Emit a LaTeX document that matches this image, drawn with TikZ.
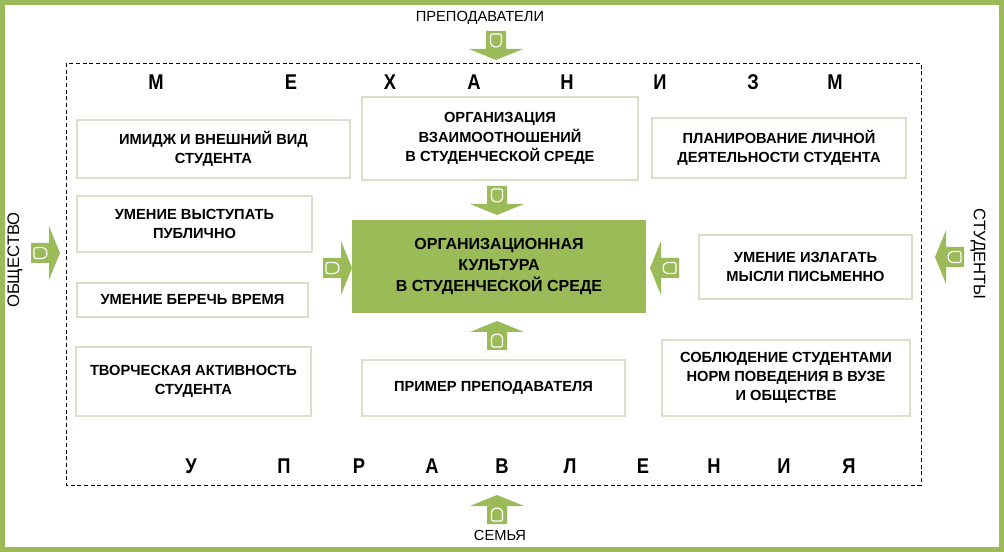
\documentclass[tikz,border=0pt]{standalone}
\usepackage{fontspec}
\setmainfont{Liberation Sans}
\newfontfamily\narrowfont[FakeStretch=0.86]{Liberation Sans Bold}
\usetikzlibrary{positioning}
\definecolor{olivegreen}{RGB}{155,187,89}
\definecolor{boxline}{RGB}{220,222,204}
\tikzset{
  mech box/.style={draw=boxline,line width=0.9pt,fill=white,align=center,inner sep=2pt,
    font=\bfseries\fontsize{11}{14.5}\selectfont},
  core box/.style={fill=olivegreen,align=center,inner sep=2pt,
    font=\bfseries\fontsize{12}{15.75}\selectfont},
  side label/.style={font=\fontsize{11}{13}\selectfont},
  big letter/.style={font=\narrowfont\fontsize{16}{16}\selectfont},
  frame line/.style={draw=black,line width=0.6pt,dash pattern=on 3pt off 2pt},
  block arrow/.pic={
    \fill[olivegreen] (-15,-10) -- (3,-10) -- (3,-27) -- (14,0) -- (3,27) -- (3,10) -- (-15,10) -- cycle;
    \draw[white,line width=0.9pt,rounded corners=1.5pt] (-12,-5.5) -- (-1,-5.5) -- (1.5,0) -- (-1,5.5) -- (-12,5.5) -- cycle;
  },
}

\begin{document}
\begin{tikzpicture}[x=0.75pt,y=-0.75pt]
  \useasboundingbox (0,0) rectangle (1004,552);
  \draw[olivegreen,line width=3.5pt] (2.5,2.5) rectangle (1001.5,549.5);
  \draw[frame line] (66,63) rectangle (921,485);

  % letters of the frame
  \foreach \l/\x in {М/156,Е/291,Х/390,А/474,Н/567,И/660,З/753,М/835}
    \node[big letter] (top\x) at (\x,82) {\l};
  \foreach \l/\x in {У/191,П/284,Р/359,А/432,В/502,Л/570,Е/643,Н/714,И/784,Я/849}
    \node[big letter] (bot\x) at (\x,466) {\l};

  % outer factors
  \node[side label] (teachers) at (480,18) {ПРЕПОДАВАТЕЛИ};
  \node[side label] (family) at (500,535) {СЕМЬЯ};
  \node[side label,font=\fontsize{12.5}{14}\selectfont,rotate=90] (society) at (15,260) {ОБЩЕСТВО};
  \node[side label,font=\fontsize{12.5}{14}\selectfont,rotate=-90] (students) at (978,254) {СТУДЕНТЫ};

  % boxes
  \node[core box,minimum width=220.5pt,minimum height=69.75pt] (core) at (499,266.5)
    {ОРГАНИЗАЦИОННАЯ\\КУЛЬТУРА\\В СТУДЕНЧЕСКОЙ СРЕДЕ};
  \node[mech box,minimum width=204.75pt,minimum height=43.5pt] (image) at (213.5,149)
    {ИМИДЖ И ВНЕШНИЙ ВИД\\СТУДЕНТА};
  \node[mech box,minimum width=207pt,minimum height=62.25pt] (relations) at (500,138.5)
    {ОРГАНИЗАЦИЯ\\ВЗАИМООТНОШЕНИЙ\\В СТУДЕНЧЕСКОЙ СРЕДЕ};
  \node[mech box,minimum width=190.5pt,minimum height=45pt] (planning) at (779,148)
    {ПЛАНИРОВАНИЕ ЛИЧНОЙ\\ДЕЯТЕЛЬНОСТИ СТУДЕНТА};
  \node[mech box,minimum width=176.25pt,minimum height=42pt] (speaking) at (194.5,224)
    {УМЕНИЕ ВЫСТУПАТЬ\\ПУБЛИЧНО};
  \node[mech box,minimum width=159.75pt,minimum height=48pt] (writing) at (805.5,267)
    {УМЕНИЕ ИЗЛАГАТЬ\\МЫСЛИ ПИСЬМЕННО};
  \node[mech box,minimum width=173.25pt,minimum height=25.5pt] (time) at (192.5,300)
    {УМЕНИЕ БЕРЕЧЬ ВРЕМЯ};
  \node[mech box,minimum width=176.25pt,minimum height=51.75pt] (creative) at (193.5,381.5)
    {ТВОРЧЕСКАЯ АКТИВНОСТЬ\\СТУДЕНТА};
  \node[mech box,minimum width=197.25pt,minimum height=42pt] (example) at (493.5,388)
    {ПРИМЕР ПРЕПОДАВАТЕЛЯ};
  \node[mech box,minimum width=186pt,minimum height=57pt] (norms) at (786,378)
    {СОБЛЮДЕНИЕ СТУДЕНТАМИ\\НОРМ ПОВЕДЕНИЯ В ВУЗЕ\\И ОБЩЕСТВЕ};

  % block arrows
  \coordinate (teachers arrow) at (496,46);
  \coordinate (family arrow) at (497,509);
  \coordinate (society arrow) at (46,253);
  \coordinate (students arrow) at (949,257);
  \coordinate (core top) at (497,201);
  \coordinate (core bottom) at (497,335);
  \coordinate (core left) at (338,268);
  \coordinate (core right) at (664,268);
  \pic[rotate=-90] at (teachers arrow) {block arrow};
  \pic[rotate=90] at (family arrow) {block arrow};
  \pic at (society arrow) {block arrow};
  \pic[rotate=180] at (students arrow) {block arrow};
  \pic[rotate=-90] at (core top) {block arrow};
  \pic[rotate=90] at (core bottom) {block arrow};
  \pic at (core left) {block arrow};
  \pic[rotate=180] at (core right) {block arrow};
\end{tikzpicture}
\end{document}
